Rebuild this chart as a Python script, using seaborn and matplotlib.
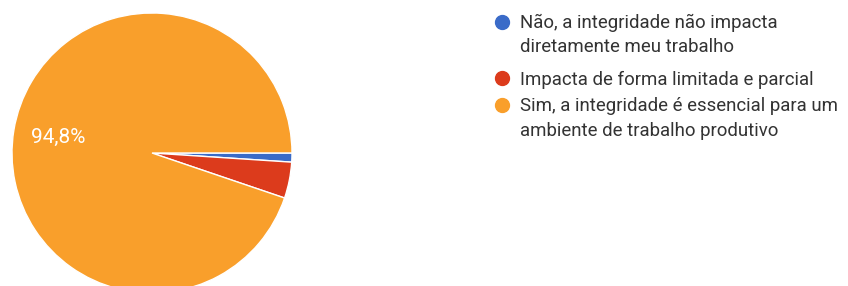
import matplotlib
matplotlib.use("Agg")
import matplotlib.pyplot as plt
import seaborn as sns
from matplotlib.lines import Line2D

sns.set_theme(style="white")
plt.rcParams['font.family'] = ['Roboto', 'DejaVu Sans']

categories = [
    "Não, a integridade não impacta\ndiretamente meu trabalho",
    "Impacta de forma limitada e parcial",
    "Sim, a integridade é essencial para um\nambiente de trabalho produtivo",
]
counts = [1, 4, 91]
colors = ["#3a6bc8", "#dc3b1c", "#f99f2b"]

W, H = 848, 286
fig = plt.figure(figsize=(W/100, H/100), dpi=100)
ax = fig.add_axes([12/W, (H-293)/H, 280/W, 280/H])

def fmt(p):
    return f"{p:.1f}%".replace('.', ',') if p > 10 else ''

wedges, texts, autotexts = ax.pie(
    counts, colors=colors, startangle=0, counterclock=False, radius=1,
    autopct=fmt, pctdistance=0.68,
    wedgeprops=dict(edgecolor="white", linewidth=1.0),
    textprops=dict(color="white", fontsize=15),
)
ax.set_xlim(-1, 1)
ax.set_ylim(-1, 1)
ax.set_aspect('auto')
ax.axis('off')

# Legend drawn manually (marker aligned with first line of each entry)
first_baselines = [27.5, 85, 111.5]
marker_y = [21.5, 78, 105]
line_pitch = 25
text_x = 520
marker_x = 502
for cat, col, by, my in zip(categories, colors, first_baselines, marker_y):
    fig.add_artist(Line2D([marker_x/W], [1 - my/H], marker='o', linestyle='',
                          markersize=10, markerfacecolor=col, markeredgecolor=col,
                          transform=fig.transFigure))
    for i, line in enumerate(cat.split("\n")):
        fig.text(text_x/W, 1 - (by + i*line_pitch)/H, line, fontsize=13.4,
                 color="#333333", ha='left', va='baseline')

fig.savefig("out.png", dpi=100)
